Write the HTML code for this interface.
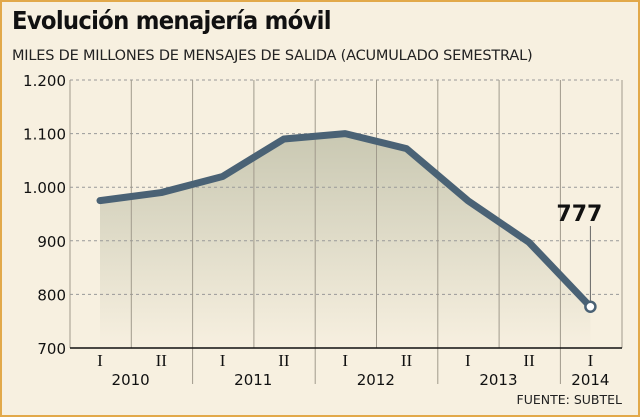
<!DOCTYPE html>
<html><head><meta charset="utf-8"><style>
body{margin:0;background:#f7f0e0;}
#wrap{position:relative;width:640px;height:417px;box-sizing:border-box;border:2px solid #e2a94a;background:#f7f0e0;font-family:"DejaVu Sans","Liberation Sans",sans-serif;overflow:hidden}
#title{position:absolute;left:10px;top:4px;font-size:25px;font-weight:bold;color:#111;letter-spacing:-0.8px;white-space:nowrap;transform:scaleX(0.91);transform-origin:left top}
#sub{position:absolute;left:10px;top:46px;font-size:14.5px;color:#222;white-space:nowrap;letter-spacing:-0.2px}
svg{position:absolute;left:0;top:0}
</style></head><body>
<div id="wrap">
<div id="title">Evolución menajería móvil</div>
<div id="sub">MILES DE MILLONES DE MENSAJES DE SALIDA (ACUMULADO SEMESTRAL)</div>
<svg id="chart" width="640" height="417">
<defs><linearGradient id="g" x1="0" y1="0" x2="0" y2="1"><stop offset="0" stop-color="#c9c8b2"/><stop offset="1" stop-color="#f7f0e0"/></linearGradient></defs>
</svg>
</div>
<script>
const periods=["I","II","I","II","I","II","I","II","I"];
const years=["2010","2011","2012","2013","2014"];
const values=[975,990,1020,1090,1100,1072,975,897,777];
const yTicks=[700,800,900,1000,1100,1200];
const yTickLabels=["700","800","900","1.000","1.100","1.200"];
const NS="http://www.w3.org/2000/svg";
const svg=document.getElementById("chart");
const L=68,R=620,T=78,B=346,step=61.3,x0=98;
const x=i=>x0+i*step;
const y=v=>B-(v-700)/500*(B-T);
function mk(t,a,p){const e=document.createElementNS(NS,t);for(const k in a)e.setAttribute(k,a[k]);(p||svg).appendChild(e);return e;}
let d="M"+x(0)+","+B;values.forEach((v,i)=>d+=" L"+x(i)+","+y(v));d+=" L"+x(values.length-1)+","+B+"Z";
const area=mk("path",{d:d,fill:"url(#g)"});


yTicks.forEach((t,i)=>{
 if(t>700){const g=mk("line",{x1:L,x2:R,y1:y(t),y2:y(t),stroke:"#999",'stroke-dasharray':"3,3","stroke-width":1});
 
 }
 const tx=mk("text",{x:L-4,y:y(t)+6,"text-anchor":"end","font-size":"15","fill":"#111"});
 tx.textContent=yTickLabels[i];
 
 
});
for(let k=0;k<=periods.length;k++){
 const xx=L+k*step*(k<periods.length?1:0)+(k==periods.length?R-L:0);
 const isYear=k%2==0&&k>0&&k<periods.length;
 const ln=mk("line",{x1:xx,x2:xx,y1:T,y2:isYear?382:B,stroke:"#a09a8c","stroke-width":1});
 
 
}
const ax=mk("line",{x1:L,x2:R,y1:B,y2:B,stroke:"#111","stroke-width":1.5});


periods.forEach((p,i)=>{const t=mk("text",{x:x(i),y:364,"text-anchor":"middle","font-size":"17","font-family":"Liberation Serif, serif","fill":"#111"});t.textContent=p;
 
 });
years.forEach((yr,j)=>{const cx=j<4?(x(2*j)+x(2*j+1))/2:x(8);const t=mk("text",{x:cx,y:383,"text-anchor":"middle","font-size":"15","fill":"#111"});t.textContent=yr;
 
 });
const pts=values.map((v,i)=>x(i)+","+y(v)).join(" ");
const pl=mk("polyline",{points:pts,fill:"none",stroke:"#4a6275","stroke-width":7,"stroke-linejoin":"round","stroke-linecap":"round"});


const li=values.length-1;
const lead=mk("line",{x1:x(li),x2:x(li),y1:y(values[li])-5,y2:224,stroke:"#666","stroke-width":1});


const c=mk("circle",{cx:x(li),cy:y(values[li]),r:5,fill:"#fff",stroke:"#4a6275","stroke-width":2.5});


const lbl=mk("text",{x:x(li)-11,y:219,"text-anchor":"middle","font-size":"22","font-weight":"bold","fill":"#111"});
lbl.textContent=String(values[li]);


const src=mk("text",{x:620,y:402,"text-anchor":"end","font-size":"12.5","fill":"#222"});
src.textContent="FUENTE: SUBTEL";


</script>
</body></html>
